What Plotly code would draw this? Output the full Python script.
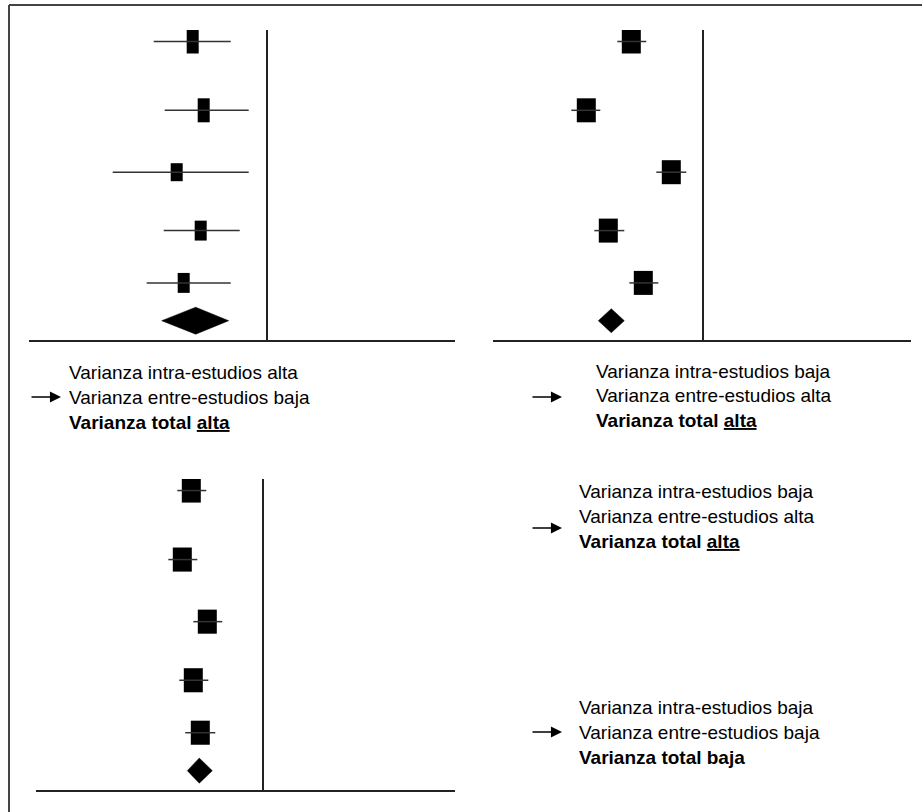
import plotly.graph_objects as go

# ---------------- data (effect sizes, 95% CI, relative weights) ----------------
row_pos = [29.85, 22.97, 16.78, 10.94, 5.71]   # study rows (top -> bottom)
pooled_pos = 1.93                              # row of the pooled estimate

# Panel A: high within-study variance, low between-study variance
est_a = [-0.74, -0.63, -0.90, -0.66, -0.83]
lo_a = [-1.13, -1.02, -1.54, -1.03, -1.20]
hi_a = [-0.36, -0.18, -0.18, -0.27, -0.36]
weight_a = [1.0, 1.0, 0.75, 0.83, 0.83]
pooled_a = [-0.71, -1.05, -0.38]   # estimate, lower, upper

# Panel B: low within-study variance, high between-study variance
est_b = [-0.72, -1.17, -0.32, -0.95, -0.60]
lo_b = [-0.86, -1.32, -0.47, -1.09, -0.74]
hi_b = [-0.57, -1.03, -0.17, -0.79, -0.45]
weight_b = [1.0, 1.0, 1.0, 1.0, 1.0]
pooled_b = [-0.92, -1.05, -0.79]

# Panel C: low within-study variance, low between-study variance
est_c = [-0.72, -0.81, -0.56, -0.70, -0.63]
lo_c = [-0.86, -0.95, -0.70, -0.84, -0.78]
hi_c = [-0.57, -0.66, -0.41, -0.55, -0.48]
weight_c = [1.0, 1.0, 1.0, 1.0, 1.0]
pooled_c = [-0.64, -0.76, -0.51]

text_a = ["Varianza intra-estudios alta", "Varianza entre-estudios baja",
          "<b>Varianza total <u>alta</u></b>"]
text_b = ["Varianza intra-estudios baja", "Varianza entre-estudios alta",
          "<b>Varianza total <u>alta</u></b>"]
text_c = ["Varianza intra-estudios baja", "Varianza entre-estudios alta",
          "<b>Varianza total <u>alta</u></b>"]
text_d = ["Varianza intra-estudios baja", "Varianza entre-estudios baja",
          "<b>Varianza total baja</b>"]

# ---------------- figure ----------------
W, H = 922, 812
FONT = "Liberation Sans, Arial, Helvetica, sans-serif"
fig = go.Figure()


def px_x(p):
    return p / W


def px_y(p):
    return 1 - p / H


panels = [
    # data, axis suffix, box width (x units), box height (y units), diamond half-height
    (est_a, lo_a, hi_a, weight_a, pooled_a, "", 0.12, 2.4, 1.35),
    (est_b, lo_b, hi_b, weight_b, pooled_b, "2", 0.19, 2.4, 1.2),
    (est_c, lo_c, hi_c, weight_c, pooled_c, "3", 0.19, 2.4, 1.25),
]

for est, lo, hi, wt, pooled, sfx, bw, bh, dh in panels:
    xa, ya = "x" + sfx, "y" + sfx
    # confidence intervals
    cx, cy = [], []
    for l, h, y in zip(lo, hi, row_pos):
        cx += [l, h, None]
        cy += [y, y, None]
    fig.add_trace(go.Scatter(x=cx, y=cy, mode="lines", xaxis=xa, yaxis=ya,
                             line=dict(color="#333333", width=1.5),
                             hoverinfo="skip", showlegend=False))
    # study boxes (horizontal bars centred on the estimate)
    fig.add_trace(go.Bar(orientation="h", y=row_pos, x=[bw] * len(est),
                         base=[e - bw / 2 for e in est],
                         width=[bh * w for w in wt], xaxis=xa, yaxis=ya,
                         marker=dict(color="black", line=dict(width=0)),
                         showlegend=False))
    # pooled diamond
    pe, pl, ph = pooled
    fig.add_trace(go.Scatter(x=[pl, pe, ph, pe, pl],
                             y=[pooled_pos, pooled_pos + dh, pooled_pos,
                                pooled_pos - dh, pooled_pos],
                             mode="lines", fill="toself", fillcolor="black",
                             line=dict(color="black", width=0.5),
                             xaxis=xa, yaxis=ya, showlegend=False))

axis_common = dict(showgrid=False, showticklabels=False, ticks="",
                   fixedrange=True)
# panel geometry (pixels): x-domain, null line position, y-domain
geo = [
    ("", (29, 455), 266.7, (30, 340)),
    ("2", (493, 911), 703.3, (30, 340)),
    ("3", (36, 455), 263.3, (479, 790)),
]
layout_axes = {}
for sfx, (x0, x1), null_px, (yt, yb) in geo:
    scale = 100.0  # pixels per unit
    layout_axes["xaxis" + sfx] = dict(
        domain=[px_x(x0), px_x(x1)],
        range=[(x0 - null_px) / scale, (x1 - null_px) / scale],
        zeroline=True, zerolinecolor="#222222", zerolinewidth=2,
        showline=True, linecolor="#222222", linewidth=2,
        anchor="y" + sfx, **axis_common)
    layout_axes["yaxis" + sfx] = dict(
        domain=[px_y(yb), px_y(yt)], range=[0, 31],
        zeroline=False, showline=False, anchor="x" + sfx, **axis_common)

annotations = []
blocks = [
    (text_a, 67, 372, 397),
    (text_b, 594, 371, 397),
    (text_c, 577, 491.5, 528),
    (text_d, 577, 707, 732),
]
LINE_GAP = 25
for lines, left, top_line_y, arrow_y in blocks:
    for i, line in enumerate(lines):
        annotations.append(dict(
            xref="paper", yref="paper", x=px_x(left),
            y=px_y(top_line_y + i * LINE_GAP),
            xanchor="left", yanchor="middle", align="left", showarrow=False,
            text=line, font=dict(family=FONT, size=19, color="black")))
    tip_x = 61 if left < 300 else 562
    annotations.append(dict(
        xref="paper", yref="paper", x=px_x(tip_x), y=px_y(arrow_y),
        ax=-31, ay=0, axref="pixel", ayref="pixel", text="",
        showarrow=True, arrowhead=2, arrowsize=1.7, arrowwidth=1.3,
        arrowcolor="black", standoff=0))

shapes = [
    dict(type="line", xref="paper", yref="paper", x0=px_x(9), x1=1.0,
         y0=px_y(5), y1=px_y(5), line=dict(color="#444444", width=2)),
    dict(type="line", xref="paper", yref="paper", x0=px_x(9), x1=px_x(9),
         y0=px_y(5), y1=0.0, line=dict(color="#444444", width=2)),
]

fig.update_layout(width=W, height=H, margin=dict(l=0, r=0, t=0, b=0),
                  paper_bgcolor="white", plot_bgcolor="white",
                  showlegend=False, barmode="overlay",
                  annotations=annotations, shapes=shapes,
                  font=dict(family=FONT), **layout_axes)

fig.write_html("out.html", config={"displayModeBar": False},
               post_script="document.body.style.margin='0px';")
